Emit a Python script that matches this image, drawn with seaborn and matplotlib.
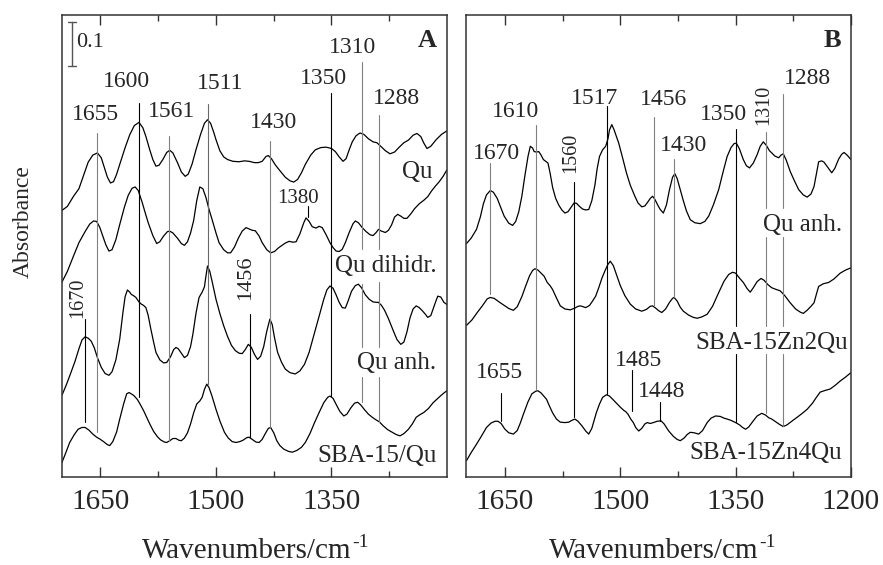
import matplotlib
matplotlib.use("Agg")
import matplotlib.pyplot as plt
import seaborn as sns
import numpy as np

sns.set_theme(style="ticks")
plt.rcParams["font.family"] = ["Liberation Serif", "DejaVu Serif"]

# ---------------- Panel A spectra (wavenumber / cm-1, absorbance) ----------------
qu_wn = [1700, 1693, 1685, 1678, 1672, 1666, 1660, 1654, 1649, 1645,
         1641, 1637, 1633, 1629, 1625, 1618, 1612, 1606, 1600, 1595,
         1591, 1586, 1582, 1578, 1574, 1569, 1564, 1560, 1556, 1550,
         1545, 1540, 1536, 1531, 1526, 1520, 1515, 1511, 1507, 1503,
         1500, 1495, 1490, 1485, 1478, 1470, 1463, 1457, 1450, 1445,
         1440, 1435, 1432, 1428, 1423, 1418, 1410, 1404, 1399, 1394,
         1389, 1384, 1377, 1371, 1364, 1357, 1350, 1345, 1340, 1335,
         1331, 1327, 1323, 1318, 1313, 1308, 1302, 1296, 1291, 1286,
         1280, 1274, 1268, 1262, 1256, 1250, 1244, 1239, 1234, 1230,
         1226, 1221, 1214, 1207, 1200]
qu_abs = [0.003, 0.012, 0.035, 0.052, 0.082, 0.112, 0.128, 0.133, 0.122, 0.100,
          0.078, 0.065, 0.068, 0.085, 0.107, 0.145, 0.174, 0.195, 0.202, 0.190,
          0.170, 0.140, 0.118, 0.103, 0.105, 0.118, 0.134, 0.139, 0.133, 0.111,
          0.090, 0.080, 0.085, 0.108, 0.140, 0.175, 0.200, 0.208, 0.200, 0.180,
          0.163, 0.138, 0.124, 0.118, 0.114, 0.113, 0.115, 0.114, 0.111, 0.111,
          0.114, 0.125, 0.127, 0.120, 0.106, 0.095, 0.078, 0.070, 0.067, 0.073,
          0.088, 0.107, 0.128, 0.140, 0.145, 0.146, 0.143, 0.136, 0.124, 0.114,
          0.120, 0.140, 0.158, 0.172, 0.178, 0.175, 0.165, 0.158, 0.156, 0.148,
          0.138, 0.131, 0.135, 0.146, 0.156, 0.162, 0.173, 0.177, 0.170, 0.155,
          0.143, 0.148, 0.163, 0.175, 0.183]

qu_dihidr_wn = [1700, 1693, 1685, 1678, 1670, 1664, 1659, 1655, 1651, 1647,
                1643, 1639, 1635, 1630, 1625, 1619, 1614, 1609, 1605, 1601,
                1596, 1592, 1588, 1582, 1577, 1573, 1568, 1563, 1560, 1556,
                1550, 1545, 1541, 1537, 1533, 1529, 1525, 1521, 1517, 1513,
                1509, 1505, 1500, 1496, 1490, 1485, 1481, 1476, 1471, 1466,
                1461, 1457, 1453, 1449, 1444, 1440, 1434, 1429, 1424, 1419,
                1415, 1410, 1405, 1400, 1396, 1391, 1386, 1383, 1379, 1375,
                1370, 1366, 1362, 1357, 1352, 1348, 1344, 1340, 1336, 1332,
                1327, 1322, 1319, 1315, 1310, 1305, 1300, 1296, 1292, 1289,
                1285, 1280, 1276, 1272, 1268, 1264, 1260, 1256, 1252, 1247,
                1242, 1236, 1230, 1225, 1220, 1215, 1210, 1205, 1200]
qu_dihidr_abs = [0.001, 0.025, 0.060, 0.090, 0.115, 0.132, 0.139, 0.138, 0.125, 0.105,
                 0.085, 0.071, 0.074, 0.097, 0.131, 0.170, 0.197, 0.213, 0.216, 0.208,
                 0.182, 0.158, 0.135, 0.106, 0.088, 0.092, 0.105, 0.115, 0.116, 0.112,
                 0.100, 0.088, 0.084, 0.092, 0.112, 0.140, 0.185, 0.216, 0.212, 0.192,
                 0.165, 0.142, 0.112, 0.090, 0.074, 0.067, 0.067, 0.080, 0.100, 0.116,
                 0.124, 0.121, 0.118, 0.117, 0.105, 0.090, 0.074, 0.067, 0.070, 0.078,
                 0.083, 0.089, 0.093, 0.091, 0.092, 0.110, 0.135, 0.146, 0.138, 0.126,
                 0.123, 0.127, 0.124, 0.108, 0.090, 0.079, 0.071, 0.070, 0.075, 0.090,
                 0.113, 0.133, 0.139, 0.135, 0.124, 0.115, 0.108, 0.106, 0.113, 0.120,
                 0.116, 0.113, 0.118, 0.130, 0.148, 0.154, 0.150, 0.145, 0.145, 0.155,
                 0.167, 0.178, 0.186, 0.194, 0.207, 0.218, 0.228, 0.240, 0.255]

qu_anh_wn = [1700, 1694, 1688, 1683, 1678, 1674, 1670, 1666, 1662, 1658,
             1654, 1649, 1644, 1639, 1635, 1630, 1625, 1621, 1618, 1615,
             1612, 1610, 1607, 1604, 1600, 1597, 1594, 1591, 1588, 1585,
             1581, 1578, 1573, 1568, 1564, 1559, 1555, 1552, 1549, 1545,
             1541, 1537, 1533, 1530, 1526, 1522, 1518, 1515, 1513, 1511,
             1508, 1505, 1500, 1495, 1490, 1485, 1480, 1475, 1470, 1466,
             1462, 1458, 1454, 1450, 1446, 1442, 1438, 1434, 1430, 1427,
             1424, 1420, 1415, 1410, 1404, 1397, 1391, 1385, 1379, 1373,
             1366, 1360, 1356, 1352, 1348, 1344, 1340, 1336, 1332, 1328,
             1324, 1319, 1315, 1311, 1306, 1301, 1296, 1292, 1289, 1285,
             1281, 1276, 1270, 1265, 1260, 1256, 1252, 1248, 1244, 1240,
             1236, 1232, 1228, 1225, 1221, 1216, 1212, 1208, 1204, 1200]
qu_anh_abs = [0.005, 0.030, 0.058, 0.082, 0.110, 0.130, 0.137, 0.134, 0.127, 0.112,
              0.090, 0.068, 0.054, 0.050, 0.058, 0.085, 0.132, 0.190, 0.228, 0.243,
              0.238, 0.233, 0.230, 0.226, 0.216, 0.211, 0.208, 0.203, 0.185, 0.158,
              0.125, 0.102, 0.085, 0.078, 0.079, 0.092, 0.108, 0.113, 0.110, 0.100,
              0.090, 0.095, 0.115, 0.143, 0.190, 0.226, 0.238, 0.250, 0.275, 0.297,
              0.285, 0.262, 0.222, 0.190, 0.162, 0.138, 0.118, 0.106, 0.100, 0.099,
              0.108, 0.120, 0.113, 0.097, 0.086, 0.093, 0.115, 0.150, 0.177, 0.165,
              0.135, 0.102, 0.080, 0.064, 0.056, 0.053, 0.060, 0.075, 0.102, 0.140,
              0.184, 0.222, 0.243, 0.252, 0.247, 0.232, 0.215, 0.203, 0.202, 0.220,
              0.240, 0.253, 0.256, 0.248, 0.232, 0.222, 0.216, 0.215, 0.215, 0.208,
              0.197, 0.178, 0.152, 0.131, 0.120, 0.125, 0.148, 0.180, 0.200, 0.207,
              0.203, 0.196, 0.188, 0.181, 0.185, 0.210, 0.229, 0.227, 0.215, 0.210]

sba_qu_wn = [1700, 1695, 1690, 1684, 1679, 1674, 1670, 1665, 1660, 1655,
             1651, 1646, 1641, 1638, 1634, 1629, 1625, 1620, 1616, 1613,
             1609, 1606, 1602, 1598, 1594, 1590, 1586, 1581, 1576, 1572,
             1567, 1564, 1560, 1556, 1552, 1548, 1545, 1541, 1537, 1533,
             1529, 1525, 1521, 1518, 1515, 1512, 1509, 1505, 1500, 1495,
             1489, 1484, 1479, 1474, 1469, 1465, 1460, 1457, 1453, 1448,
             1444, 1440, 1436, 1432, 1429, 1425, 1421, 1417, 1412, 1406,
             1401, 1395, 1389, 1384, 1378, 1372, 1366, 1360, 1355, 1352,
             1348, 1343, 1339, 1334, 1330, 1325, 1320, 1316, 1312, 1307,
             1302, 1297, 1292, 1288, 1283, 1277, 1271, 1266, 1261, 1256,
             1250, 1245, 1240, 1235, 1230, 1224, 1218, 1213, 1208, 1204,
             1200]
sba_qu_abs = [0.003, 0.025, 0.048, 0.066, 0.078, 0.082, 0.082, 0.076, 0.067, 0.060,
              0.056, 0.050, 0.043, 0.041, 0.050, 0.072, 0.101, 0.135, 0.158, 0.161,
              0.157, 0.153, 0.145, 0.133, 0.120, 0.105, 0.090, 0.073, 0.061, 0.054,
              0.049, 0.048, 0.052, 0.057, 0.057, 0.053, 0.052, 0.058, 0.070, 0.090,
              0.115, 0.135, 0.142, 0.150, 0.168, 0.180, 0.172, 0.152, 0.123, 0.097,
              0.071, 0.058, 0.050, 0.048, 0.050, 0.053, 0.059, 0.060, 0.055, 0.049,
              0.048, 0.055, 0.068, 0.080, 0.082, 0.070, 0.052, 0.041, 0.033, 0.028,
              0.026, 0.030, 0.037, 0.048, 0.068, 0.093, 0.116, 0.138, 0.150, 0.153,
              0.148, 0.131, 0.118, 0.108, 0.112, 0.126, 0.137, 0.139, 0.133, 0.122,
              0.112, 0.105, 0.099, 0.095, 0.086, 0.077, 0.071, 0.066, 0.063, 0.068,
              0.078, 0.090, 0.105, 0.111, 0.116, 0.125, 0.138, 0.146, 0.154, 0.160,
              0.165]

# ---------------- Panel B spectra ----------------
b_qu_anh_wn = [1700, 1694, 1687, 1682, 1678, 1674, 1669, 1665, 1660, 1656,
               1651, 1645, 1640, 1636, 1632, 1628, 1624, 1620, 1617, 1614,
               1612, 1609, 1606, 1603, 1600, 1597, 1594, 1591, 1588, 1584,
               1580, 1576, 1572, 1568, 1564, 1560, 1557, 1553, 1549, 1545,
               1541, 1537, 1533, 1530, 1527, 1523, 1519, 1516, 1514, 1511,
               1508, 1505, 1502, 1497, 1492, 1487, 1481, 1477, 1472, 1468,
               1465, 1461, 1458, 1455, 1451, 1448, 1444, 1440, 1436, 1432,
               1429, 1426, 1422, 1418, 1414, 1409, 1403, 1396, 1390, 1385,
               1379, 1372, 1366, 1361, 1356, 1352, 1349, 1345, 1340, 1336,
               1332, 1327, 1322, 1318, 1314, 1310, 1306, 1303, 1299, 1294,
               1291, 1288, 1284, 1279, 1273, 1268, 1262, 1257, 1252, 1248,
               1245, 1242, 1238, 1235, 1230, 1225, 1221, 1216, 1212, 1209,
               1205, 1200]
b_qu_anh_abs = [0.008, 0.020, 0.040, 0.068, 0.098, 0.118, 0.128, 0.124, 0.110, 0.092,
                0.070, 0.054, 0.049, 0.058, 0.080, 0.115, 0.162, 0.205, 0.228, 0.224,
                0.216, 0.215, 0.216, 0.208, 0.198, 0.194, 0.190, 0.165, 0.135, 0.110,
                0.095, 0.084, 0.077, 0.080, 0.090, 0.100, 0.099, 0.092, 0.086, 0.084,
                0.085, 0.105, 0.140, 0.178, 0.205, 0.220, 0.228, 0.245, 0.265, 0.277,
                0.265, 0.250, 0.235, 0.202, 0.168, 0.140, 0.115, 0.100, 0.091, 0.093,
                0.100, 0.110, 0.115, 0.108, 0.094, 0.085, 0.077, 0.095, 0.130, 0.158,
                0.166, 0.155, 0.130, 0.105, 0.082, 0.062, 0.055, 0.053, 0.058, 0.070,
                0.095, 0.130, 0.172, 0.205, 0.225, 0.234, 0.235, 0.222, 0.198, 0.184,
                0.179, 0.190, 0.209, 0.228, 0.238, 0.230, 0.218, 0.213, 0.206, 0.202,
                0.208, 0.211, 0.196, 0.171, 0.148, 0.130, 0.118, 0.113, 0.120, 0.137,
                0.165, 0.193, 0.195, 0.192, 0.180, 0.168, 0.178, 0.199, 0.210, 0.214,
                0.208, 0.198]

zn2_wn = [1700, 1693, 1686, 1679, 1673, 1669, 1664, 1660, 1656, 1650,
          1645, 1639, 1634, 1628, 1623, 1618, 1614, 1611, 1607, 1603,
          1599, 1595, 1591, 1588, 1583, 1578, 1572, 1565, 1559, 1555,
          1552, 1548, 1545, 1540, 1536, 1532, 1528, 1524, 1520, 1516,
          1513, 1509, 1505, 1500, 1494, 1487, 1480, 1472, 1466, 1461,
          1458, 1454, 1450, 1446, 1441, 1436, 1432, 1430, 1426, 1422,
          1418, 1411, 1405, 1400, 1394, 1387, 1380, 1372, 1365, 1359,
          1354, 1350, 1345, 1340, 1335, 1331, 1327, 1322, 1317, 1313,
          1308, 1303, 1297, 1292, 1286, 1279, 1272, 1266, 1262, 1257,
          1252, 1248, 1245, 1242, 1236, 1229, 1222, 1214, 1207, 1200]
zn2_abs = [0.003, 0.015, 0.032, 0.048, 0.063, 0.066, 0.064, 0.059, 0.054, 0.047,
           0.041, 0.037, 0.045, 0.068, 0.092, 0.115, 0.127, 0.131, 0.128, 0.121,
           0.114, 0.100, 0.092, 0.084, 0.065, 0.047, 0.040, 0.038, 0.042, 0.046,
           0.047, 0.045, 0.043, 0.048, 0.058, 0.069, 0.088, 0.109, 0.126, 0.141,
           0.148, 0.138, 0.118, 0.093, 0.070, 0.051, 0.040, 0.035, 0.039, 0.046,
           0.047, 0.042, 0.036, 0.032, 0.040, 0.055, 0.064, 0.066, 0.058, 0.044,
           0.035, 0.026, 0.021, 0.019, 0.022, 0.028, 0.046, 0.077, 0.103, 0.118,
           0.123, 0.121, 0.110, 0.100, 0.086, 0.078, 0.088, 0.102, 0.109, 0.105,
           0.095, 0.088, 0.084, 0.081, 0.070, 0.054, 0.040, 0.033, 0.030, 0.037,
           0.046, 0.054, 0.073, 0.091, 0.097, 0.100, 0.108, 0.121, 0.128, 0.133]

zn4_wn = [1700, 1694, 1687, 1680, 1674, 1668, 1663, 1659, 1655, 1650,
          1645, 1639, 1634, 1630, 1626, 1620, 1615, 1610, 1607, 1603,
          1599, 1596, 1592, 1588, 1583, 1578, 1572, 1567, 1563, 1559,
          1555, 1550, 1545, 1541, 1537, 1534, 1531, 1527, 1523, 1518,
          1514, 1510, 1505, 1500, 1495, 1493, 1490, 1486, 1483, 1480,
          1476, 1472, 1468, 1465, 1461, 1457, 1452, 1447, 1443, 1437,
          1431, 1426, 1422, 1417, 1413, 1409, 1404, 1398, 1393, 1387,
          1382, 1376, 1370, 1365, 1361, 1356, 1350, 1345, 1341, 1337,
          1333, 1327, 1322, 1316, 1311, 1307, 1303, 1298, 1293, 1288,
          1283, 1277, 1270, 1264, 1257, 1250, 1245, 1240, 1233, 1227,
          1220, 1214, 1207, 1200]
zn4_abs = [0.007, 0.025, 0.044, 0.064, 0.082, 0.092, 0.096, 0.096, 0.091, 0.078,
           0.070, 0.067, 0.075, 0.092, 0.112, 0.140, 0.158, 0.164, 0.165, 0.160,
           0.152, 0.146, 0.130, 0.115, 0.101, 0.094, 0.093, 0.094, 0.098, 0.101,
           0.096, 0.086, 0.074, 0.067, 0.080, 0.098, 0.116, 0.135, 0.150, 0.156,
           0.153, 0.146, 0.137, 0.128, 0.120, 0.118, 0.112, 0.100, 0.093, 0.082,
           0.074, 0.080, 0.090, 0.093, 0.091, 0.093, 0.096, 0.097, 0.090, 0.074,
           0.062, 0.055, 0.052, 0.058, 0.066, 0.071, 0.070, 0.067, 0.075, 0.093,
           0.103, 0.108, 0.107, 0.103, 0.101, 0.098, 0.093, 0.088, 0.082, 0.078,
           0.083, 0.097, 0.108, 0.114, 0.110, 0.104, 0.101, 0.095, 0.089, 0.084,
           0.088, 0.096, 0.105, 0.113, 0.123, 0.137, 0.150, 0.162, 0.166, 0.169,
           0.178, 0.187, 0.196, 0.206]

# vertical stacking of the spectra
offsets_a = [0.60, 0.44, 0.18, 0.03]
offsets_b = [0.52, 0.34, 0.03]
names_a = ["Qu", "Qu dihidr.", "Qu anh.", "SBA-15/Qu"]
names_b = ["Qu anh.", "SBA-15Zn2Qu", "SBA-15Zn4Qu"]

# band markers: wavenumber, drawn segments (absorbance ranges), colour
bands_a = [
    (1655, [(0.102, 0.779)], "gray"),
    (1600, [(0.181, 0.847)], "black"),
    (1561, [(0.081, 0.772)], "gray"),
    (1511, [(0.210, 0.844)], "dimgray"),
    (1430, [(0.113, 0.761)], "gray"),
    (1350, [(0.183, 0.869)], "black"),
    (1310, [(0.515, 0.939), (0.293, 0.436), (0.169, 0.226)], "gray"),
    (1288, [(0.515, 0.819), (0.293, 0.442), (0.124, 0.226)], "gray"),
    (1670, [(0.124, 0.357)], "black"),
    (1456, [(0.090, 0.368)], "black"),
    (1380, [(0.587, 0.612)], "black"),
]
bands_b = [
    (1670, [(0.413, 0.711)], "gray"),
    (1610, [(0.199, 0.795)], "gray"),
    (1560, [(0.135, 0.668)], "black"),
    (1517, [(0.187, 0.840)], "black"),
    (1456, [(0.386, 0.815)], "gray"),
    (1430, [(0.406, 0.720)], "gray"),
    (1350, [(0.341, 0.786), (0.124, 0.278)], "black"),
    (1310, [(0.609, 0.781), (0.341, 0.542), (0.144, 0.278)], "gray"),
    (1288, [(0.609, 0.867), (0.341, 0.542), (0.115, 0.278)], "gray"),
    (1655, [(0.126, 0.190)], "black"),
    (1485, [(0.149, 0.242)], "black"),
    (1448, [(0.126, 0.169)], "black"),
]

# peak labels: text, x (cm-1), y (absorbance), size, rotation
peak_labels_a = [
    ("1655", 1657, 0.819, 17, 0), ("1600", 1616, 0.895, 17, 0),
    ("1561", 1558, 0.827, 17, 0), ("1511", 1494, 0.889, 17, 0),
    ("1430", 1425, 0.802, 17, 0), ("1350", 1360, 0.902, 17, 0),
    ("1310", 1323, 0.971, 17, 0), ("1288", 1265, 0.855, 17, 0),
    ("1380", 1393, 0.630, 15, 0), ("1670", 1679, 0.406, 14.5, 90),
    ("1456", 1461, 0.451, 16, 90),
]
peak_labels_b = [
    ("1670", 1661, 0.731, 17, 0), ("1610", 1636, 0.827, 17, 0),
    ("1560", 1565, 0.733, 14.5, 90), ("1517", 1533, 0.857, 17, 0),
    ("1456", 1444, 0.853, 17, 0), ("1430", 1418, 0.750, 17, 0),
    ("1350", 1366, 0.819, 17, 0), ("1310", 1314, 0.842, 14.5, 90),
    ("1288", 1257, 0.902, 17, 0), ("1655", 1657, 0.236, 17, 0),
    ("1485", 1476, 0.263, 17, 0), ("1448", 1446, 0.193, 17, 0),
]
name_pos_a = [(1239, 0.690), (1280, 0.477), (1265, 0.257), (1291, 0.048)]
name_pos_b = [(1263, 0.569), (1303, 0.304), (1311, 0.054)]

W, H = 883, 565
fig = plt.figure(figsize=(W / 100, H / 100), dpi=100)
ax_a = fig.add_axes([0.0702, 0.1558, 0.4360, 0.8177])
ax_b = fig.add_axes([0.5283, 0.1558, 0.4354, 0.8177])


def draw_panel(ax, spectra, offsets, names, name_pos, bands, labels, letter, major):
    for (wn, ab), off, name, (tx, ty) in zip(spectra, offsets, names, name_pos):
        sns.lineplot(x=wn, y=np.asarray(ab) + off, ax=ax, color="black",
                     linewidth=0.9, sort=False, estimator=None)
        ax.text(tx, ty, name, fontsize=18, ha="center", va="center")
    for wn, segs, col in bands:
        for y0, y1 in segs:
            ax.plot([wn, wn], [y0, y1], color=col, linewidth=0.8)
    for txt, x, y, fs, rot in labels:
        ax.text(x, y, txt, fontsize=fs, rotation=rot, ha="center", va="center")
    ax.text(0.975, 0.945, letter, transform=ax.transAxes, fontsize=19,
            fontweight="bold", ha="right", va="center")
    ax.set_xlim(1700, 1200)
    ax.set_ylim(0, 1.045)
    ax.set_yticks([])
    ax.set_xticks(major)
    ax.set_xticks([1575, 1425, 1275], minor=True)
    ax.set_xlabel("")
    ax.set_ylabel("")
    ax.tick_params(axis="x", which="major", direction="in", length=7, width=1,
                   top=True, labelsize=21, pad=9, color="#333333")
    ax.tick_params(axis="x", which="minor", direction="in", length=4, width=1,
                   top=True, color="#333333")
    for sp in ax.spines.values():
        sp.set_visible(True)
        sp.set_linewidth(1.1)
        sp.set_color("#333333")


draw_panel(ax_a,
           [(qu_wn, qu_abs), (qu_dihidr_wn, qu_dihidr_abs),
            (qu_anh_wn, qu_anh_abs), (sba_qu_wn, sba_qu_abs)],
           offsets_a, names_a, name_pos_a, bands_a, peak_labels_a, "A",
           [1650, 1500, 1350])
draw_panel(ax_b,
           [(b_qu_anh_wn, b_qu_anh_abs), (zn2_wn, zn2_abs), (zn4_wn, zn4_abs)],
           offsets_b, names_b, name_pos_b, bands_b, peak_labels_b, "B",
           [1650, 1500, 1350, 1200])

# 0.1 absorbance scale bar
bar_col = "#555555"
ax_a.plot([1686.7, 1686.7], [0.930, 1.030], color=bar_col, linewidth=1)
ax_a.plot([1691.9, 1681.9], [1.030, 1.030], color=bar_col, linewidth=1)
ax_a.plot([1691.9, 1681.9], [0.930, 0.930], color=bar_col, linewidth=1)
ax_a.text(1681, 0.982, "0.1", fontsize=16, ha="left", va="center")

# x-axis titles with a raised "-1"
fig.canvas.draw()
renderer = fig.canvas.get_renderer()
for cx in (255, 662):
    main = fig.text(0, 0, "Wavenumbers/cm", fontsize=21, va="baseline")
    sup = fig.text(0, 0, "-1", fontsize=14, va="baseline")
    w_main = main.get_window_extent(renderer).width
    w_sup = sup.get_window_extent(renderer).width
    left = cx - (w_main + w_sup) / 2
    base = 7
    main.set_position((left / W, base / H))
    sup.set_position(((left + w_main + 1) / W, (base + 11) / H))

fig.text(23 / W, 1 - 222 / H, "Absorbance", fontsize=17, rotation=90,
         ha="center", va="center")

fig.savefig("out.png", dpi=100)
